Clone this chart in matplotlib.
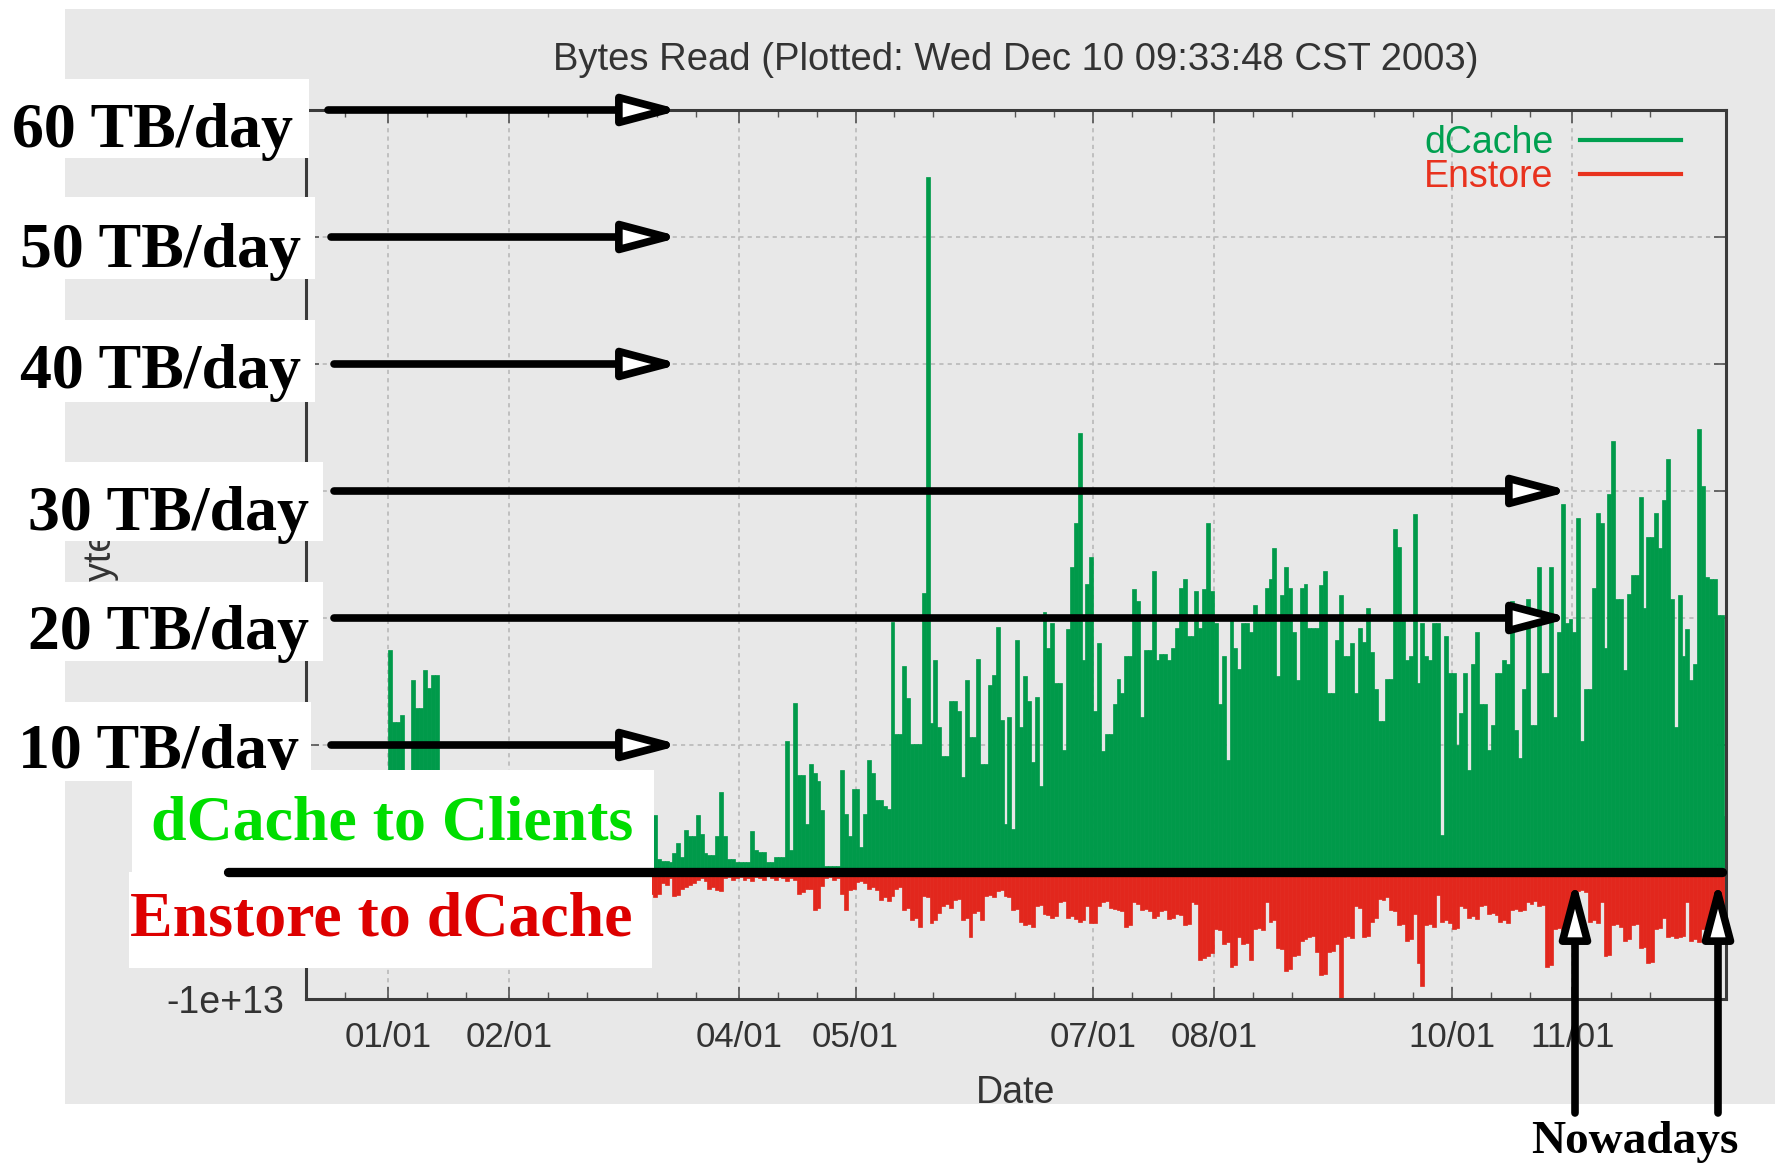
import numpy as np
import pandas as pd
import matplotlib
matplotlib.use("Agg")
import matplotlib.pyplot as plt
import matplotlib.dates as mdates
from matplotlib.lines import Line2D
from matplotlib.patches import Rectangle
from matplotlib.ticker import FuncFormatter
from matplotlib.transforms import blended_transform_factory

plt.rcParams['font.family'] = ['Liberation Sans', 'DejaVu Sans']

# bytes read per day in TB/day, 2002-12-11 .. 2003-12-10
dcache_dec02 = [0.0, 0.0, 0.0, 0.0, 0.0, 0.0, 0.0, 0.0, 0.0, 0.0, 0.0,
                0.0, 0.0, 0.0, 0.0, 0.0, 0.0, 0.0, 0.0, 0.0, 0.0]
dcache_jan = [17.5, 11.8, 11.8, 12.4, 3.0, 2.5, 15.1, 12.9, 12.9, 15.9, 14.5, 15.5, 15.5,
              3.1, 2.4, 1.8, 2.6, 3.5, 2.2, 1.5, 2.9, 3.8, 2.7, 1.9, 2.3, 3.0, 2.1, 1.6,
              2.8, 3.3, 2.5]
dcache_feb = [2.6, 3.2, 1.9, 2.4, 3.6, 2.8, 1.7, 2.2, 3.1, 2.9, 1.8, 2.5, 3.4, 2.0,
              1.6, 2.7, 3.0, 2.3, 1.9, 2.8, 3.5, 2.4, 1.7, 2.6, 3.1, 2.2, 1.8, 2.9]
dcache_mar = [2.4, 3.3, 1.9, 2.7, 3.0, 1.6, 2.2, 3.4, 2.5, 4.5, 1.0, 0.9, 0.9, 0.8, 1.5,
              2.3, 1.2, 3.3, 2.8, 2.8, 4.5, 3.0, 1.5, 1.3, 1.3, 2.8, 6.3, 2.8, 1.0, 1.0, 0.8]
dcache_apr = [0.8, 0.8, 0.8, 3.2, 1.7, 1.6, 1.6, 0.8, 0.8, 1.2, 1.2, 1.2, 10.3, 1.7, 13.3,
              7.6, 7.6, 3.8, 8.5, 7.8, 7.2, 4.9, 0.5, 0.5, 0.5, 0.5, 8.0, 4.6, 2.8, 6.5]
dcache_may = [6.5, 2.0, 4.6, 8.8, 7.8, 5.7, 5.7, 5.2, 5.0, 19.7, 10.9, 10.9, 16.2, 13.7,
              10.1, 10.1, 10.1, 22.0, 54.7, 11.7, 16.7, 11.4, 9.1, 9.1, 13.5, 13.5, 12.7,
              7.5, 15.1, 10.6, 10.6]
dcache_jun = [16.8, 8.5, 8.5, 14.7, 15.5, 19.3, 12.0, 3.8, 12.2, 3.4, 18.3, 11.4, 15.4,
              13.5, 8.7, 13.8, 6.8, 20.5, 17.6, 19.6, 14.9, 14.9, 9.6, 19.1, 24.0, 27.5,
              34.6, 16.7, 22.7, 24.8]
dcache_jul = [12.7, 18.0, 9.5, 10.9, 10.9, 13.2, 15.2, 14.1, 17.0, 17.0, 22.3, 21.3, 12.2,
              17.5, 17.5, 23.7, 16.7, 17.2, 17.2, 16.7, 17.6, 19.2, 22.4, 23.1, 18.6, 18.6,
              22.1, 19.2, 22.3, 27.5, 22.1]
dcache_aug = [19.6, 13.2, 17.0, 8.8, 20.2, 17.6, 16.0, 19.6, 19.6, 18.9, 21.0, 20.2, 20.2,
              22.4, 23.1, 25.5, 15.4, 21.8, 24.0, 22.4, 18.9, 15.1, 22.4, 22.7, 19.2, 19.2,
              19.2, 22.6, 23.7, 14.1, 14.1]
dcache_sep = [18.3, 21.8, 17.0, 17.0, 18.0, 14.1, 19.2, 18.1, 20.8, 17.3, 14.4, 11.9, 11.9,
              15.2, 15.2, 27.0, 25.6, 19.9, 16.7, 17.0, 28.2, 14.9, 19.6, 17.0, 16.7, 19.6,
              19.6, 2.9, 18.6, 15.7]
dcache_oct = [15.7, 10.0, 12.5, 15.7, 8.0, 16.4, 18.9, 13.2, 13.2, 9.6, 11.6, 15.7, 15.7,
              16.7, 16.4, 21.3, 11.2, 9.0, 14.4, 21.5, 11.6, 11.6, 24.0, 15.7, 15.7, 24.0,
              12.2, 18.9, 29.0, 19.6, 19.9]
dcache_nov = [18.9, 27.9, 10.3, 14.4, 14.4, 22.4, 28.3, 27.5, 17.6, 29.8, 33.9, 21.5, 21.5,
              15.9, 21.9, 23.4, 23.4, 29.5, 20.8, 26.4, 26.4, 28.3, 25.5, 29.3, 32.5, 21.5,
              11.4, 21.8, 17.0, 19.1]
dcache_dec03 = [15.1, 16.4, 34.9, 30.4, 23.2, 23.1, 23.1, 20.2, 20.2, 4.4]

enstore_dec02 = [0.0, 0.0, 0.0, 0.0, 0.0, 0.0, 0.0, 0.0, 0.0, 0.0, 0.0,
                 0.0, 0.0, 0.0, 0.0, 0.0, 0.0, 0.0, 0.0, 0.0, 0.0]
enstore_jan = [1.2, 0.8, 1.5, 0.6, 0.9, 1.8, 1.1, 0.7, 1.4, 2.0, 1.0, 0.6, 1.3, 0.9, 1.6,
               0.8, 1.2, 0.5, 1.1, 1.7, 0.9, 0.6, 1.3, 1.0, 0.7, 1.5, 1.1, 0.8, 1.4, 0.6, 1.0]
enstore_feb = [1.2, 0.7, 1.6, 0.9, 1.1, 0.5, 1.3, 1.8, 0.8, 1.0, 1.4, 0.6, 1.2, 0.9,
               1.5, 0.7, 1.1, 1.3, 0.6, 1.0, 1.7, 0.8, 1.2, 0.9, 1.4, 0.7, 1.1, 1.5]
enstore_mar = [0.9, 1.3, 0.7, 1.6, 1.0, 0.8, 1.4, 1.2, 1.7, 2.0, 1.7, 0.9, 1.0, 0.5, 1.9,
               1.8, 1.3, 1.2, 1.0, 0.9, 0.6, 0.5, 0.7, 1.3, 1.2, 1.4, 1.5, 0.5, 0.4, 0.6, 0.5]
enstore_apr = [0.4, 0.6, 0.5, 0.7, 0.4, 0.5, 0.6, 0.3, 0.5, 0.6, 0.4, 0.5, 0.7, 0.5, 0.6,
               1.7, 1.6, 1.3, 1.3, 3.0, 2.8, 1.1, 0.5, 0.4, 0.6, 0.5, 1.7, 3.0, 1.4, 1.3]
enstore_may = [0.8, 0.7, 0.9, 1.3, 1.2, 1.4, 2.2, 2.0, 2.3, 1.9, 1.3, 1.2, 3.0, 2.8, 3.8,
               3.6, 4.3, 1.9, 2.0, 4.0, 3.8, 3.2, 2.7, 2.5, 2.8, 2.2, 2.1, 3.8, 3.6, 5.1, 3.2]
enstore_jun = [3.1, 3.8, 1.9, 1.8, 2.0, 1.5, 1.4, 1.9, 2.0, 3.0, 2.9, 3.9, 4.2, 4.1, 4.3,
               2.7, 2.6, 3.3, 3.4, 3.6, 3.5, 2.4, 2.3, 3.6, 3.5, 3.7, 3.9, 3.8, 2.7, 4.0]
enstore_jul = [4.0, 2.7, 2.4, 2.3, 2.8, 2.9, 3.0, 3.1, 4.3, 4.2, 2.4, 2.5, 3.0, 2.9, 3.1,
               3.6, 3.5, 3.1, 3.0, 3.7, 3.6, 3.3, 3.4, 4.2, 4.1, 2.4, 2.5, 6.9, 6.8, 6.6, 6.4]
enstore_aug = [4.5, 4.6, 5.7, 5.5, 7.5, 7.3, 5.1, 5.7, 5.6, 6.9, 4.5, 4.4, 4.6, 2.4, 3.9,
               3.8, 6.0, 6.1, 7.8, 7.6, 6.6, 6.5, 5.4, 5.3, 5.1, 5.0, 6.3, 8.1, 8.0, 6.3, 6.2]
enstore_sep = [5.7, 9.9, 5.1, 5.0, 5.2, 2.7, 2.8, 5.1, 5.0, 3.9, 3.6, 2.1, 2.2, 2.0, 3.0,
               3.1, 4.2, 4.1, 5.4, 5.3, 3.3, 7.2, 9.0, 4.2, 4.1, 4.3, 1.8, 3.9, 3.8, 4.0]
enstore_oct = [4.5, 4.4, 2.7, 2.8, 3.6, 3.5, 3.7, 2.7, 2.6, 3.3, 3.2, 3.4, 3.9, 3.8, 4.0,
               3.0, 2.9, 3.1, 3.0, 2.4, 2.5, 2.3, 2.7, 2.6, 7.5, 7.3, 4.5, 4.4, 4.6, 5.1, 5.0]
enstore_nov = [5.2, 1.5, 1.4, 1.6, 3.9, 3.8, 4.0, 2.4, 6.6, 6.5, 4.2, 4.1, 4.3, 5.4, 5.3,
               4.2, 4.1, 6.0, 5.9, 7.2, 7.1, 4.5, 4.4, 3.6, 5.1, 5.0, 5.2, 5.1, 5.0, 2.4]
enstore_dec03 = [5.4, 5.3, 5.5, 4.5, 4.4, 5.1, 5.0, 3.6, 3.5, 3.7]

first_day = '2002-12-11'
tick_days = ['2003-01-01', '2003-02-01', '2003-04-01', '2003-05-01',
             '2003-07-01', '2003-08-01', '2003-10-01', '2003-11-01']
y_ticks = [-1e13, 0, 1e13, 2e13, 3e13, 4e13, 5e13, 6e13]
level_tb = [60, 50, 40, 30, 20, 10]
level_labels = ['60 TB/day', '50 TB/day', '40 TB/day', '30 TB/day', '20 TB/day', '10 TB/day']

dcache_tb = np.array(dcache_dec02 + dcache_jan + dcache_feb + dcache_mar + dcache_apr +
                     dcache_may + dcache_jun + dcache_jul + dcache_aug + dcache_sep +
                     dcache_oct + dcache_nov + dcache_dec03)
enstore_tb = np.array(enstore_dec02 + enstore_jan + enstore_feb + enstore_mar + enstore_apr +
                      enstore_may + enstore_jun + enstore_jul + enstore_aug + enstore_sep +
                      enstore_oct + enstore_nov + enstore_dec03)
days = mdates.date2num(pd.date_range(first_day, periods=len(dcache_tb), freq='D'))

GREEN = '#009a4a'
RED = '#e2271d'
TXT = '#333333'

W, H = 1775, 1165
fig = plt.figure(figsize=(W / 100, H / 100), dpi=100)

# light grey canvas of the original gnuplot image
fig.add_artist(Rectangle((65 / W, 1 - 1104 / H), (W - 65) / W, (1104 - 9) / H,
                         transform=fig.transFigure, facecolor='#e8e8e8',
                         edgecolor='none', zorder=-5))

ax = fig.add_axes([306 / W, 1 - 999 / H, 1420 / W, 889 / H])
ax.patch.set_visible(False)

ax.bar(days, dcache_tb * 1e12, width=1.0, align='edge', color=GREEN,
       edgecolor=GREEN, linewidth=0.5, zorder=2)
ax.bar(days, -enstore_tb * 1e12, width=1.0, align='edge', color=RED,
       edgecolor=RED, linewidth=0.5, zorder=2)

ax.set_xlim(mdates.date2num(pd.Timestamp('2002-12-10 23:00')),
            mdates.date2num(pd.Timestamp('2003-12-10 10:00')))
ax.set_ylim(-1e13, 6e13)
ax.set_xticks(mdates.date2num(pd.to_datetime(tick_days)))
ax.xaxis.set_major_formatter(mdates.DateFormatter('%m/%d'))
ax.xaxis.set_minor_locator(mdates.DayLocator(bymonthday=[11, 21]))
ax.set_yticks(y_ticks)
ax.yaxis.set_major_formatter(FuncFormatter(lambda v, p: '%g' % v))

ax.tick_params(which='major', direction='in', length=9, width=1.2, color='#555555',
               labelcolor=TXT, labelsize=27, pad=16, top=True, right=True)
ax.tick_params(axis='x', labelsize=25)
ax.tick_params(which='minor', direction='in', length=5, width=1.0, color='#555555',
               top=True, bottom=True)
for s in ax.spines.values():
    s.set_color('#3a3a3a')
    s.set_linewidth(2.2)
ax.grid(True, which='major', color='#b8b8b8', linestyle=(0, (2.5, 2.5)), linewidth=1.2)
ax.set_axisbelow(True)

ax.set_title('Bytes Read (Plotted: Wed Dec 10 09:33:48 CST 2003)', fontsize=27.5,
             color=TXT, pad=29)
ax.set_xlabel('Date', fontsize=27, color=TXT)
ax.xaxis.set_label_coords(0.5, -0.0855)
ax.set_ylabel('Bytes', fontsize=27, color=TXT)
ax.yaxis.set_label_coords(-0.134, 0.5)

handles = [Line2D([], [], color='#00a050', lw=3), Line2D([], [], color='#e8321e', lw=3)]
ax.legend(handles, ['dCache', 'Enstore'], loc='upper right', bbox_to_anchor=(0.9683, 0.983),
          frameon=False, markerfirst=False, handlelength=2.7, handletextpad=0.7,
          labelspacing=-0.05, borderpad=0, borderaxespad=0, fontsize=27,
          labelcolor=['#00a050', '#e8321e'])

# overlay in image pixels for the slide annotations
ov = fig.add_axes([0, 0, 1, 1])
ov.set_xlim(0, W)
ov.set_ylim(H, 0)
ov.axis('off')
ov.set_zorder(3)
yt = blended_transform_factory(ov.transData, ax.transData)

serif = dict(family='Liberation Serif', weight='bold')
head = dict(mutation_scale=1, shrinkA=0, shrinkB=0, lw=5.5, ec='black', fc='white',
            capstyle='round')
arrow_style = '-|>,head_length=34,head_width=9'

# (box x0, y0, x1, y1), text centre x, text baseline, arrow start x, arrow tip x
level_boxes = [(0, 79, 309, 158), (0, 197, 315, 279), (0, 320, 315, 402),
               (0, 462, 323, 541), (0, 582, 323, 661), (0, 702, 311, 781)]
level_text = [(152, 147), (160, 267), (160, 388), (168, 530), (168, 649), (158, 768)]
level_arrow = [(328, 681), (331, 681), (334, 681), (334, 1571), (334, 1571), (331, 681)]

for (x0, y0, x1, y1), (tx, ty), lab in zip(level_boxes, level_text, level_labels):
    ov.add_patch(Rectangle((x0, y0), x1 - x0, y1 - y0, facecolor='white',
                           edgecolor='none', zorder=1))
    ov.text(tx, ty, lab, ha='center', va='baseline', fontsize=46, color='black',
            zorder=2, **serif)

ov.add_patch(Rectangle((132, 770), 654 - 132, 872 - 770, facecolor='white',
                       edgecolor='none', zorder=3))
ov.add_patch(Rectangle((129, 872), 652 - 129, 968 - 872, facecolor='white',
                       edgecolor='none', zorder=3))
ov.text(392, 840, 'dCache to Clients', ha='center', va='baseline', fontsize=46,
        color='#00dd00', zorder=4, **serif)
ov.text(381, 935, 'Enstore to dCache', ha='center', va='baseline', fontsize=46,
        color='#dd0000', zorder=4, **serif)

for tb, (xs, xe) in zip(level_tb, level_arrow):
    ov.annotate('', xy=(xe, tb * 1e12), xytext=(xs, tb * 1e12), xycoords=yt,
                textcoords=yt, arrowprops=dict(arrowstyle=arrow_style, **head),
                zorder=5)

ov.plot([228, 1722], [0, 0], transform=yt, color='black', lw=6.7,
        solid_capstyle='round', zorder=5)

for xn in [1575, 1718]:
    ov.annotate('', xy=(xn, 879), xytext=(xn, 1113),
                arrowprops=dict(arrowstyle=arrow_style, **head), zorder=5)
ov.text(1635, 1153, 'Nowadays', ha='center', va='baseline', fontsize=34,
        color='black', zorder=5, **serif)

fig.savefig('out.png', dpi=100, facecolor='white')
